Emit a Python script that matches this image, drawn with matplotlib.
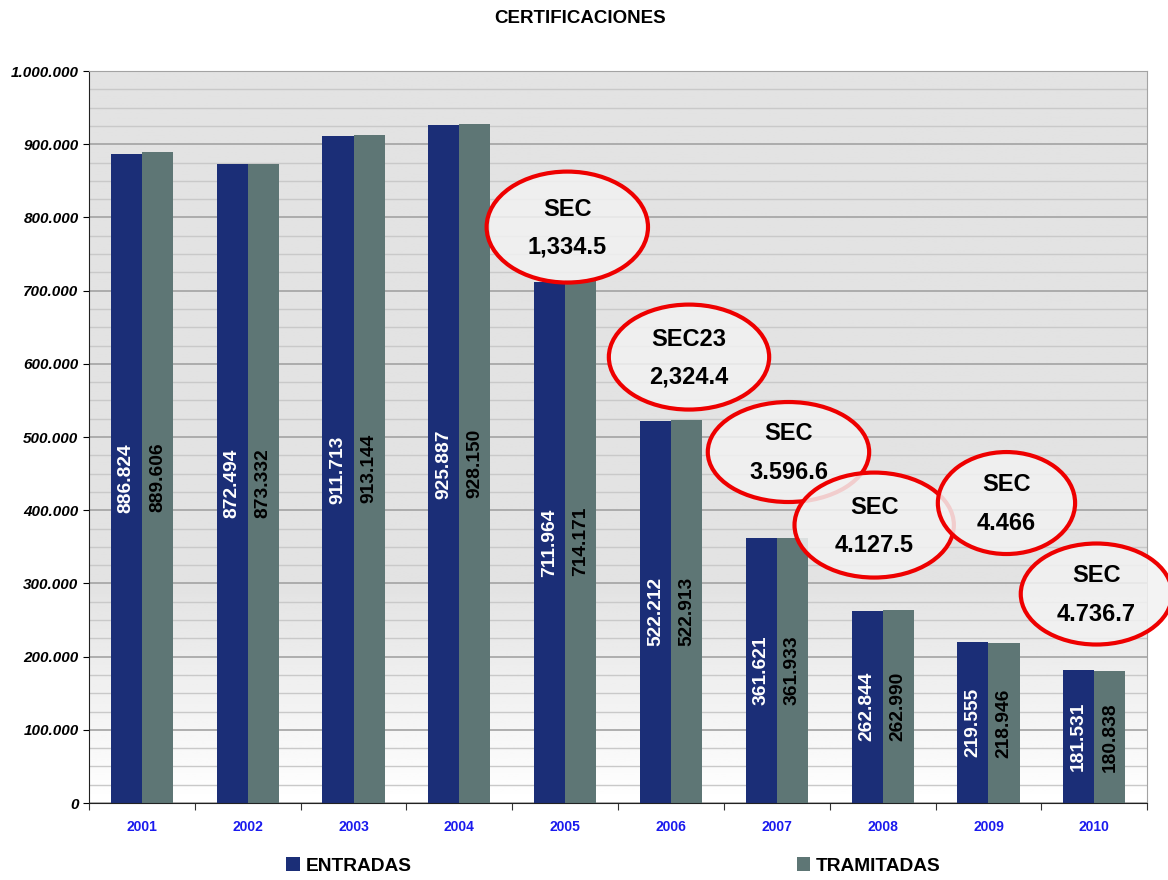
import numpy as np
import matplotlib
matplotlib.use("Agg")
import matplotlib.pyplot as plt
from matplotlib.patches import Ellipse
from matplotlib.ticker import FuncFormatter, MultipleLocator, FixedLocator

plt.rcParams['font.family'] = ['Liberation Sans', 'DejaVu Sans']

# datos
years = ['2001', '2002', '2003', '2004', '2005', '2006', '2007', '2008', '2009', '2010']
entradas = [886824, 872494, 911713, 925887, 711964, 522212, 361621, 262844, 219555, 181531]
tramitadas = [889606, 873332, 913144, 928150, 714171, 522913, 361933, 262990, 218946, 180838]

# notas (elipses rojas)
sec_names = ['SEC', 'SEC23', 'SEC', 'SEC', 'SEC', 'SEC']
sec_values = ['1,334.5', '2,324.4', '3.596.6', '4.127.5', '4.466', '4.736.7']
sec_x = [4.02, 5.17, 6.11, 6.92, 8.17, 9.02]
sec_y = [786800, 609200, 479500, 379700, 409800, 285500]
sec_w = [1.525, 1.515, 1.525, 1.506, 1.297, 1.43]
sec_h = [151600, 143400, 136600, 143400, 139300, 138000]

c_ent = '#1b2e77'
c_tra = '#5e7675'


def miles(v, pos=None):
    return f"{v:,.0f}".replace(",", ".")


fig = plt.figure(figsize=(11.68, 8.8), dpi=100)
ax = fig.add_axes([0.0762, 0.0875, 0.906, 0.8318])

x = np.arange(len(years))
w = 0.294

# fondo degradado gris -> blanco
frac = np.linspace(0, 1, 300)
shade = np.where(frac > 0.3, 0.888, 1.0 - (0.112 / 0.3) * frac)
grad = np.repeat(shade[:, None], 2, axis=1)
ax.imshow(grad, cmap='gray', vmin=0, vmax=1, aspect='auto', origin='lower',
          extent=[-0.5, 9.5, 0, 1000000], zorder=0)

b1 = ax.bar(x - w / 2, entradas, w, color=c_ent, zorder=2, label='ENTRADAS')
b2 = ax.bar(x + w / 2, tramitadas, w, color=c_tra, zorder=2, label='TRAMITADAS')

for i in range(len(years)):
    ax.text(x[i] - w / 2, entradas[i] / 2, miles(entradas[i]), rotation=90,
            ha='center', va='center', color='white', fontsize=13.8,
            fontweight='bold', zorder=2.5)
    ax.text(x[i] + w / 2, tramitadas[i] / 2, miles(tramitadas[i]), rotation=90,
            ha='center', va='center', color='black', fontsize=13.8,
            fontweight='bold', zorder=2.5)

ax.set_xlim(-0.5, 9.5)
ax.set_ylim(0, 1000000)

ax.yaxis.set_major_locator(MultipleLocator(100000))
ax.yaxis.set_minor_locator(MultipleLocator(25000))
ax.yaxis.set_major_formatter(FuncFormatter(miles))
ax.grid(axis='y', which='major', color='#a3a3a3', lw=1.2, zorder=1)
ax.grid(axis='y', which='minor', color='#c9c9c9', lw=1.0, zorder=1)
ax.set_axisbelow(True)

ax.xaxis.set_major_locator(FixedLocator(np.arange(-0.5, 10, 1)))
ax.xaxis.set_minor_locator(FixedLocator(x))
ax.set_xticklabels([], minor=False)
ax.set_xticklabels(years, minor=True)
ax.tick_params(axis='x', which='major', length=5, direction='out', color='#333333')
ax.tick_params(axis='x', which='minor', length=0, pad=12, labelsize=10,
               labelcolor='#1a1aee')
for t in ax.get_xticklabels(minor=True):
    t.set_fontweight('bold')
ax.tick_params(axis='y', which='major', length=4, direction='out', labelsize=11)
ax.tick_params(axis='y', which='minor', length=0)
for t in ax.get_yticklabels():
    t.set_fontweight('bold')
    t.set_fontstyle('italic')

ax.spines['left'].set_color('#222222')
ax.spines['bottom'].set_color('#222222')
ax.spines['top'].set_color('#a3a3a3')
ax.spines['right'].set_color('#a3a3a3')

for i in range(len(sec_names)):
    e = Ellipse((sec_x[i], sec_y[i]), sec_w[i], sec_h[i],
                facecolor=(0.95, 0.95, 0.95, 0.85), edgecolor='#ee0000',
                lw=3, zorder=3 + i, clip_on=False)
    ax.add_patch(e)
    ax.annotate(sec_names[i], (sec_x[i], sec_y[i]), xytext=(0, 13),
                textcoords='offset points', ha='center', va='center',
                fontsize=17, fontweight='bold', zorder=3.5 + i,
                annotation_clip=False)
    ax.annotate(sec_values[i], (sec_x[i], sec_y[i]), xytext=(0, -14.5),
                textcoords='offset points', ha='center', va='center',
                fontsize=17, fontweight='bold', zorder=3.5 + i,
                annotation_clip=False)

fig.text(0.497, 0.979, 'CERTIFICACIONES', ha='center', va='center',
         fontsize=13.5, fontweight='bold')

fig.legend(handles=[b1], labels=['ENTRADAS'], loc='center left',
           bbox_to_anchor=(0.245, 0.016), frameon=False,
           prop={'weight': 'bold', 'size': 13.8}, handlelength=0.7,
           handleheight=0.7, handletextpad=0.3, borderpad=0, borderaxespad=0)
fig.legend(handles=[b2], labels=['TRAMITADAS'], loc='center left',
           bbox_to_anchor=(0.682, 0.016), frameon=False,
           prop={'weight': 'bold', 'size': 13.8}, handlelength=0.7,
           handleheight=0.7, handletextpad=0.3, borderpad=0, borderaxespad=0)

fig.savefig('out.png', dpi=100)
